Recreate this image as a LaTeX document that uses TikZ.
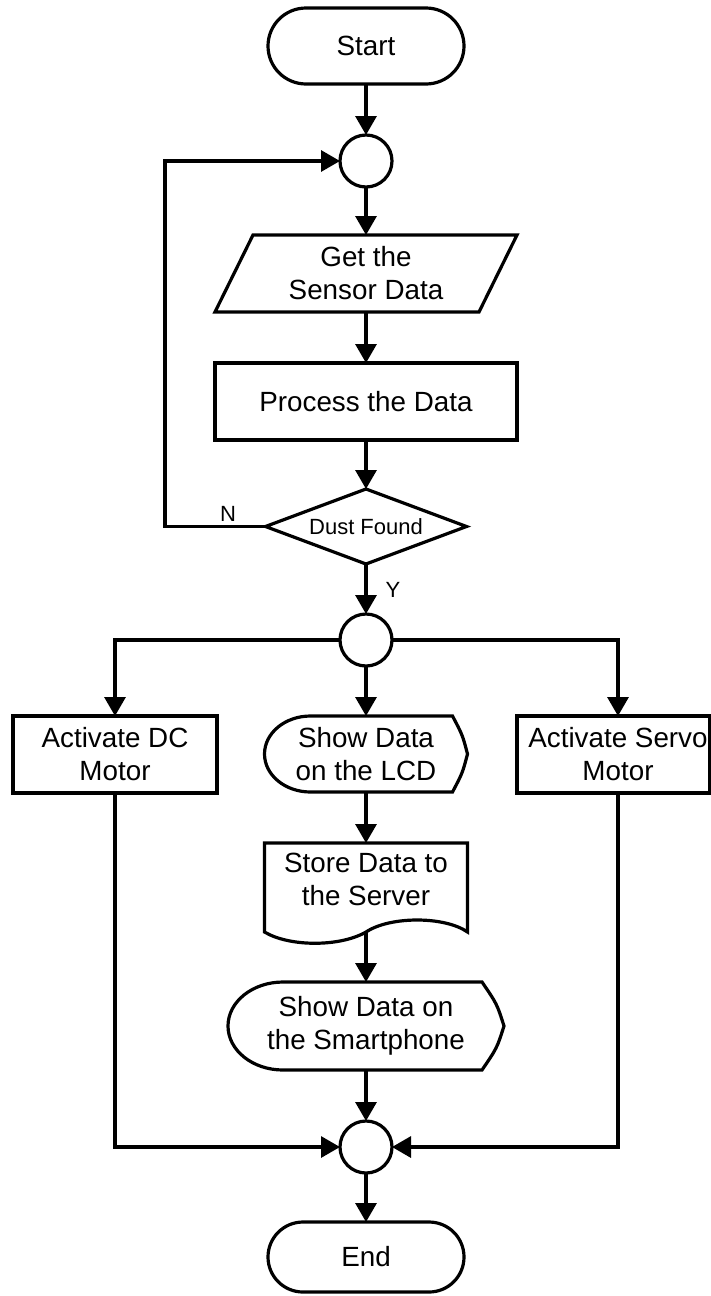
\documentclass[tikz,border=0pt]{standalone}
\usepackage{fontspec}
\setmainfont{Liberation Sans}
\usetikzlibrary{arrows.meta,calc}

\begin{document}
\begin{tikzpicture}[x=1pt,y=-1pt,
  lw/.style={line width=3.2pt},
  outline/.style={lw, line join=miter},
  flow/.style={lw, -{Triangle[length=19pt,width=21pt]}},
  txt/.style={font=\fontsize{27.8}{33}\selectfont, align=center, inner sep=0pt},
  small/.style={font=\fontsize{22}{26}\selectfont, inner sep=0pt},
  frame/.style={draw=none, inner sep=0pt, outer sep=0pt},
  procbox/.style={draw, lw, inner sep=0pt, outer sep=0pt},
  terminal/.style={procbox, rounded corners=#1},
  junction/.style={circle, draw, lw, minimum size=52pt, inner sep=0pt, outer sep=0pt},
]
\useasboundingbox (0,0) rectangle (711,1296);

% ---- main column ----
\node[terminal=38pt, txt, minimum width=196pt, minimum height=76pt] (start) at (366,46) {Start};
\node[junction] (c1) at (366,161) {};

% input / output (parallelogram)
\node[frame, txt, minimum width=302pt, minimum height=77pt] (getdata) at (366,273.5) {Get the\\Sensor Data};
\draw[outline] (getdata.south west) -- ($(getdata.north west)+(38,0)$) -- (getdata.north east)
  -- ($(getdata.south east)-(38,0)$) -- cycle;

\node[procbox, txt, minimum width=302pt, minimum height=77pt] (proc) at (366,401.5) {Process the Data};

% decision
\node[frame, small, minimum width=201pt, minimum height=75pt] (dust) at (366,526.5) {Dust Found};
\draw[outline] (dust.north) -- (dust.east) -- (dust.south) -- (dust.west) -- cycle;

\node[junction] (c2) at (366,640) {};

% ---- three branches ----
\node[procbox, minimum width=204pt, minimum height=77pt] (dc) at (115,754.5) {};
\node[txt] (dctext) at (115,754.5) {Activate DC\\Motor};

\node[procbox, minimum width=193pt, minimum height=77pt] (servo) at (613.5,754.5) {};
\node[txt] (servotext) at (618,754.5) {Activate Servo\\Motor};
\coordinate (servox) at (618,0);

% display: LCD
\node[frame, txt, minimum width=203pt, minimum height=76pt] (lcd) at (366,754) {Show Data\\on the LCD};
\draw[outline] ($(lcd.north west)+(46,0)$) -- ($(lcd.north east)-(15,0)$)
  .. controls ($(lcd.north east)+(-5,19)$) .. (lcd.east)
  .. controls ($(lcd.south east)+(-5,-19)$) .. ($(lcd.south east)-(15,0)$)
  -- ($(lcd.south west)+(46,0)$)
  .. controls ($(lcd.south west)+(20.6,0)$) and ($(lcd.west)+(0,21)$) .. (lcd.west)
  .. controls ($(lcd.west)+(0,-21)$) and ($(lcd.north west)+(20.6,0)$) .. ($(lcd.north west)+(46,0)$)
  -- cycle;

% document: server
\node[frame, minimum width=203pt, minimum height=89pt] (store) at (366,887.5) {};
\node[txt] (storetext) at (366,879) {Store Data to\\the Server};
\draw[outline] (store.north west) -- (store.north east) -- (store.south east)
  .. controls ($(store.south east)+(-23,-16)$) and ($(store.south)+(24,-16)$) .. (store.south)
  .. controls ($(store.south)+(-26,15)$) and ($(store.south west)+(25,15)$) .. (store.south west)
  -- cycle;

% display: smartphone
\node[frame, txt, minimum width=276pt, minimum height=88pt] (phone) at (366,1026) {Show Data on\\the Smartphone};
\draw[outline] ($(phone.north west)+(55,0)$) -- ($(phone.north east)-(22,0)$)
  .. controls ($(phone.north east)+(-7,22)$) .. (phone.east)
  .. controls ($(phone.south east)+(-7,-22)$) .. ($(phone.south east)-(22,0)$)
  -- ($(phone.south west)+(55,0)$)
  .. controls ($(phone.south west)+(24.6,0)$) and ($(phone.west)+(0,24.3)$) .. (phone.west)
  .. controls ($(phone.west)+(0,-24.3)$) and ($(phone.north west)+(24.6,0)$) .. ($(phone.north west)+(55,0)$)
  -- cycle;

\node[junction] (c3) at (366,1147) {};
\node[terminal=35pt, txt, minimum width=196pt, minimum height=70pt] (end) at (366,1257) {End};

% ---- connectors ----
\coordinate (loopx) at (165,0);
\draw[flow] (start) -- (c1);
\draw[flow] (c1) -- (getdata.north);
\draw[flow] (getdata.south) -- (proc);
\draw[flow] (proc) -- (dust.north);
\draw[flow] (dust.west) -- (dust.west -| loopx) -- (c1.west -| loopx) -- (c1.west);
\node[small] (nlabel) at (228,514) {N};
\draw[flow] (dust.south) -- (c2);
\node[small] (ylabel) at (393,590) {Y};

\draw[flow] (c2.west) -- (c2.west -| dc.north) -- (dc.north);
\draw[flow] (c2) -- (lcd.north);
\draw[flow] (c2.east) -- (c2.east -| servox) -- (servox |- servo.north);

\draw[flow] (lcd.south) -- (store.north);
\draw[flow] (store.south) -- (phone.north);
\draw[flow] (phone.south) -- (c3);

\draw[flow] (dc.south) -- (dc.south |- c3.west) -- (c3.west);
\draw[flow] (servox |- servo.south) -- (servox |- c3.east) -- (c3.east);
\draw[flow] (c3) -- (end);
\end{tikzpicture}
\end{document}
